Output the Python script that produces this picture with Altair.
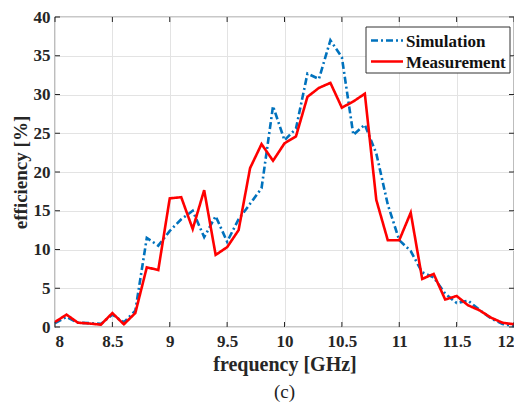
import altair as alt
import pandas as pd

freq = [round(8 + 0.1 * i, 1) for i in range(41)]
simulation = [0.5, 1.3, 0.55, 0.5, 0.4, 1.6, 0.6, 2.1, 11.5, 10.5,
              12.4, 13.9, 15.0, 11.6, 14.3, 11.0, 13.9, 15.9, 17.9, 28.5,
              24.1, 25.6, 32.7, 32.0, 37.0, 34.8, 24.8, 26.1, 22.4, 15.8,
              11.2, 9.8, 7.05, 6.4, 4.3, 3.1, 3.4, 2.2, 1.1, 0.4, 0.1]
measurement = [0.64, 1.6, 0.55, 0.45, 0.3, 1.8, 0.35, 1.8, 7.7, 7.35,
               16.6, 16.75, 12.65, 17.65, 9.3, 10.3, 12.5, 20.5, 23.6, 21.45,
               23.7, 24.6, 29.7, 30.85, 31.5, 28.3, 29.1, 30.1, 16.4, 11.2,
               11.2, 14.75, 6.2, 6.85, 3.55, 4.0, 2.8, 2.15, 1.2, 0.55, 0.35]
series_names = ["Simulation", "Measurement"]
series_colors = ["#0072BD", "#FF0000"]
series_dashes = [[7, 3, 2, 3], [1, 0]]
x_ticks = [8, 8.5, 9, 9.5, 10, 10.5, 11, 11.5, 12]
y_ticks = [0, 5, 10, 15, 20, 25, 30, 35, 40]
caption = ["(c)"]

rows = []
for i, f in enumerate(freq):
    rows.append({"freq": f, "eff": simulation[i], "series": "Simulation", "o": 0})
for i, f in enumerate(freq):
    rows.append({"freq": f, "eff": measurement[i], "series": "Measurement", "o": 1})
df = pd.DataFrame(rows)

W, H = 459, 310
FONT = "Liberation Serif"
TXT = "#262626"
XT = "frequency [GHz]"
YT = "efficiency [%]"
xscale = alt.Scale(domain=[8, 12], nice=False, zero=False)
yscale = alt.Scale(domain=[0, 40], nice=False)

xaxis = alt.Axis(values=x_ticks, title=XT, format="~g", labelOverlap=False,
                 labelFont=FONT, labelFontWeight="bold", labelFontSize=17,
                 labelColor=TXT, titleFont=FONT, titleFontWeight="bold",
                 titleFontSize=20, titleColor=TXT, titlePadding=5,
                 labelPadding=6, ticks=False, domain=False,
                 gridColor="#e3e3e3", gridWidth=1)
yaxis = alt.Axis(values=y_ticks, title=YT, labelOverlap=False,
                 labelFont=FONT, labelFontWeight="bold", labelFontSize=17,
                 labelColor=TXT, titleFont=FONT, titleFontWeight="bold",
                 titleFontSize=19, titleColor=TXT, titlePadding=3,
                 labelPadding=5, ticks=False, domain=False,
                 gridColor="#e3e3e3", gridWidth=1)

lines = alt.Chart(df).mark_line(strokeWidth=2.6).encode(
    x=alt.X("freq:Q", scale=xscale, axis=xaxis),
    y=alt.Y("eff:Q", scale=yscale, axis=yaxis),
    color=alt.Color("series:N", scale=alt.Scale(domain=series_names, range=series_colors),
                    legend=None),
    strokeDash=alt.StrokeDash("series:N",
                              scale=alt.Scale(domain=series_names, range=series_dashes),
                              legend=None),
    order=alt.Order("o:Q"),
    detail="series:N",
)

# inward ticks on all four sides (MATLAB box style)
xt_df = pd.DataFrame({"freq": x_ticks})
yt_df = pd.DataFrame({"eff": y_ticks})
TL = 5
tick_layers = [
    alt.Chart(xt_df).mark_rule(color=TXT, strokeWidth=1).encode(
        x=alt.X("freq:Q", scale=xscale, axis=xaxis), y=alt.value(H), y2=alt.value(H - TL)),
    alt.Chart(xt_df).mark_rule(color=TXT, strokeWidth=1).encode(
        x=alt.X("freq:Q", scale=xscale, axis=xaxis), y=alt.value(0), y2=alt.value(TL)),
    alt.Chart(yt_df).mark_rule(color=TXT, strokeWidth=1).encode(
        y=alt.Y("eff:Q", scale=yscale, axis=yaxis), x=alt.value(0), x2=alt.value(TL)),
    alt.Chart(yt_df).mark_rule(color=TXT, strokeWidth=1).encode(
        y=alt.Y("eff:Q", scale=yscale, axis=yaxis), x=alt.value(W), x2=alt.value(W - TL)),
]

# manual legend (MATLAB-style box)
LX0, LX1, LY0, LY1 = 311, 455, 10, 56
one = pd.DataFrame({"k": [0]})
legend_box = alt.Chart(one).mark_rect(fill="white", stroke="#333333", strokeWidth=1).encode(
    x=alt.value(LX0), x2=alt.value(LX1), y=alt.value(LY0), y2=alt.value(LY1))
legend_layers = [legend_box]
for i, name in enumerate(series_names):
    yy = LY0 + 13.5 + 21 * i
    legend_layers.append(
        alt.Chart(one).mark_rule(color=series_colors[i], strokeWidth=2.6,
                                 strokeDash=series_dashes[i]).encode(
            x=alt.value(LX0 + 5), x2=alt.value(LX0 + 37), y=alt.value(yy)))
    legend_layers.append(
        alt.Chart(pd.DataFrame({"t": [name]})).mark_text(
            font=FONT, fontWeight="bold", fontSize=17, color="#111111",
            align="left", baseline="middle").encode(
            text="t:N", x=alt.value(LX0 + 40), y=alt.value(yy + 1)))

cap_df = pd.DataFrame({"t": caption})
cap = alt.Chart(cap_df).mark_text(font=FONT, fontSize=19, color="#222222",
                                  baseline="middle").encode(
    text="t:N", x=alt.value(W / 2), y=alt.value(H + 65))

chart = alt.layer(lines, *tick_layers, *legend_layers, cap).properties(
    width=W, height=H,
    autosize=alt.AutoSizeParams(type="none"),
    padding={"left": 47, "top": 9, "right": 0, "bottom": 76},
).configure_view(stroke="#262626", strokeWidth=1.2)

chart.save("out.html", embed_options={"renderer": "svg", "actions": False})
